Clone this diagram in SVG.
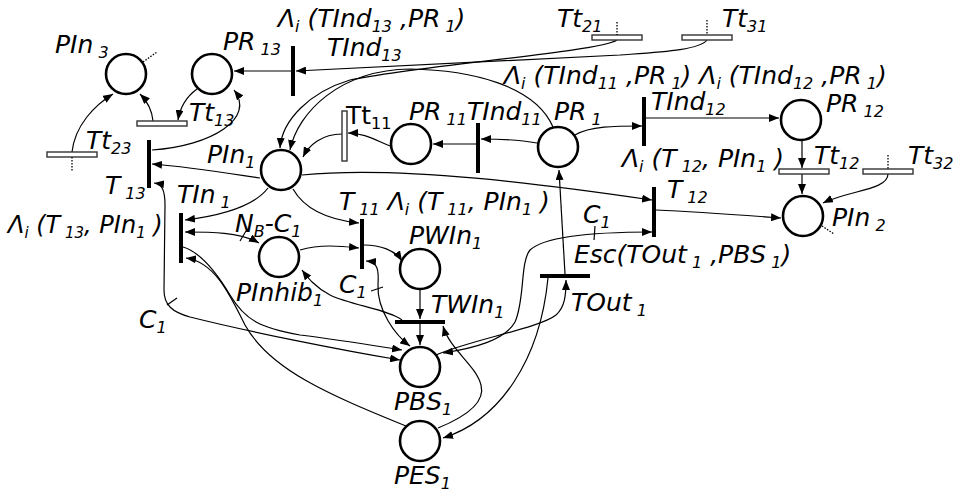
<svg xmlns="http://www.w3.org/2000/svg" width="953" height="495" viewBox="0 0 953 495">
  <defs>
    <style>
      .pl { fill: #fff; stroke: #000; stroke-width: 2.6; }
      .tr { fill: #000; }
      .tt { fill: #fff; stroke: #333; stroke-width: 1.4; }
      .dot { stroke: #000; stroke-width: 1.3; stroke-dasharray: 1.5 1.5; fill: none; }
      .arc { fill: none; stroke: #000; stroke-width: 1.2; marker-end: url(#ah); }
      .both { marker-start: url(#ah); }
      .tick { stroke: #000; stroke-width: 1.2; }
      text { font-family: "DejaVu Sans", "Liberation Sans", sans-serif; font-style: oblique; font-size: 25px; fill: #000; }
      .up { font-style: normal; }
      .s { font-size: 16px; }
      .sm { font-size: 24px; }
      .sm .s { font-size: 15px; }
    </style>
    <marker id="ah" viewBox="0 0 10 8" refX="10" refY="4" markerWidth="10" markerHeight="8" markerUnits="userSpaceOnUse" orient="auto-start-reverse">
      <path d="M0,0 L10,4 L0,8 z" fill="#000"/>
    </marker>
  </defs>
  <rect width="953" height="495" fill="#fff"/>

  <!-- arcs -->
  <g id="connectors">
    <path class="arc" d="M291,71 L234,71"/>
    <path class="arc" d="M707,40 C 700,50 660,52 620,55 L 296,71"/>
    <path class="arc" d="M617,40 C 600,52 420,65 350,80 C 310,92 282,120 280,148"/>
    <path class="arc" d="M553,127 C 535,85 470,70 410,69 C 340,70 298,112 290,150"/>
    <path class="arc" d="M342,134 C 322,134 309,145 303,157"/>
    <path class="arc" d="M390,146 C 375,140 364,133 348,133"/>
    <path class="arc" d="M476,144 L433,144"/>
    <path class="arc" d="M537,143 C 520,140 500,139 481,139"/>
    <path class="arc" d="M575,135 C 590,126 615,126 642,126"/>
    <path class="arc" d="M646,118 L779,118"/>
    <path class="arc" d="M802,141 L802,168"/>
    <path class="arc" d="M802,174 L802,194"/>
    <path class="arc" d="M888,174 C 888,190 850,190 823,203"/>
    <path class="arc" d="M302,175 C 400,165 550,185 652,200"/>
    <path class="arc" d="M656,210 C 700,212 740,215 781,218"/>
    <path class="arc" d="M260,178 C 220,172 190,167 152,164"/>
    <path class="arc" d="M152,150 C 212,146 256,118 234,90"/>
    <path class="arc" d="M197,89 C 186,97 180,108 178,120"/>
    <path class="arc" d="M153,121 C 152,110 147,101 140,94"/>
    <path class="arc" d="M72,152 C 75,125 95,105 113,94"/>
    <path class="arc both" d="M154,183 C 162,184 165,190 165,205 L 164,290 C 164,305 172,312 190,317 C 250,332 340,350 400,360"/>
    <path class="arc" d="M268,188 C 255,205 225,215 185,220"/>
    <path class="arc both" d="M185,232 C 210,232 240,232 259,243"/>
    <path class="arc" d="M183,247 C 200,252 215,270 230,295 C 245,320 260,328 300,335 C 340,340 370,345 402,350"/>
    <path class="arc" d="M406,426 C 330,395 270,370 245,325 C 230,295 215,262 186,258"/>
    <path class="arc" d="M293,189 C 305,210 330,220 359,223"/>
    <path class="arc" d="M300,250 C 320,244 340,246 359,248"/>
    <path class="arc" d="M364,245 C 380,245 395,250 402,261"/>
    <path class="arc both" d="M366,261 C 378,262 379,270 378,285 C 377,310 395,335 410,346"/>
    <path class="arc" d="M420,290 L420,319"/>
    <path class="arc" d="M420,324 L420,345"/>
    <path class="arc" d="M402,320 C 390,310 350,305 330,295 C 315,287 308,278 302,270"/>
    <path class="arc" d="M438,428 C 470,415 485,400 481,385 C 476,365 450,350 443,326"/>
    <path class="arc" d="M436,355 C 470,340 540,328 556,315 C 565,307 566,295 566,280"/>
    <path class="arc" d="M565,274 L559,170"/>
    <path class="arc" d="M548,278 C 540,360 500,420 443,438"/>
    <path class="arc both" d="M652,232 C 600,232 545,236 530,250 C 520,262 525,300 515,322 C 505,340 475,348 443,353"/>
    <!-- weight ticks -->
    <line class="tick" x1="240" y1="241" x2="246" y2="231"/>
    <line class="tick" x1="167" y1="305" x2="177" y2="298"/>
    <line class="tick" x1="371" y1="291" x2="383" y2="287"/>
    <line class="tick" x1="595" y1="226" x2="594" y2="240"/>
  </g>

  <!-- places -->
  <g id="PIn3">
    <circle class="pl" cx="126" cy="74" r="20"/>
    <line class="dot" x1="143" y1="62" x2="157" y2="52"/>
    <text x="55" y="53">PIn<tspan class="s" dy="5"> 3</tspan></text>
  </g>
  <g id="PR13">
    <circle class="pl" cx="212" cy="74" r="20"/>
    <text x="223" y="50">PR<tspan class="s" dy="5"> 13</tspan></text>
  </g>
  <g id="PIn1">
    <circle class="pl" cx="281" cy="170" r="20"/>
    <text x="207" y="163">PIn<tspan class="s" dy="5">1</tspan></text>
  </g>
  <g id="PR11">
    <circle class="pl" cx="411" cy="144" r="20"/>
    <text x="409" y="120">PR<tspan class="s" dy="5"> 11</tspan></text>
  </g>
  <g id="PR1">
    <circle class="pl" cx="558" cy="147" r="20"/>
    <text x="554" y="120">PR<tspan class="s" dy="5"> 1</tspan></text>
  </g>
  <g id="PR12">
    <circle class="pl" cx="801" cy="120" r="20"/>
    <text x="826" y="112">PR<tspan class="s" dy="5"> 12</tspan></text>
  </g>
  <g id="PIn2">
    <circle class="pl" cx="803" cy="216" r="20"/>
    <line class="dot" x1="822" y1="226" x2="834" y2="234"/>
    <text x="832" y="226">PIn<tspan class="s" dy="5"> 2</tspan></text>
  </g>
  <g id="PInhib1">
    <circle class="pl" cx="279" cy="257" r="20"/>
    <text x="236" y="301">PInhib<tspan class="s" dy="5">1</tspan></text>
  </g>
  <g id="PWIn1">
    <circle class="pl" cx="420" cy="269" r="20"/>
    <text x="409" y="244">PWIn<tspan class="s" dy="5">1</tspan></text>
  </g>
  <g id="PBS1">
    <circle class="pl" cx="420" cy="367" r="20"/>
    <text x="394" y="410">PBS<tspan class="s" dy="5">1</tspan></text>
  </g>
  <g id="PES1">
    <circle class="pl" cx="420" cy="441" r="20"/>
    <text x="394" y="484">PES<tspan class="s" dy="5">1</tspan></text>
  </g>

  <!-- immediate transitions -->
  <g id="TInd13">
    <rect class="tr" x="291" y="46" width="4" height="50"/>
    <text x="278" y="27">Λ<tspan class="s" dy="5">i</tspan><tspan dy="-5"> (TInd</tspan><tspan class="s" dy="5">13</tspan><tspan dy="-5"> ,PR</tspan><tspan class="s" dy="5"> 1</tspan><tspan dy="-5">)</tspan></text>
    <text x="327" y="56">TInd<tspan class="s" dy="5">13</tspan></text>
  </g>
  <g id="T13">
    <rect class="tr" x="147" y="140" width="4" height="48"/>
    <text x="105" y="194">T<tspan class="s" dy="5"> 13</tspan></text>
    <text class="sm" x="8" y="233">Λ<tspan class="s" dy="5">i</tspan><tspan dy="-5"> (T</tspan><tspan class="s" dy="5"> 13</tspan><tspan dy="-5">, PIn</tspan><tspan class="s" dy="5">1</tspan><tspan dy="-5"> )</tspan></text>
  </g>
  <g id="TIn1">
    <rect class="tr" x="179" y="213" width="4" height="50"/>
    <text x="177" y="203">TIn<tspan class="s" dy="5"> 1</tspan></text>
    <text x="235" y="232">N<tspan class="s" dy="5">B</tspan><tspan dy="-5">-C</tspan><tspan class="s" dy="5">1</tspan></text>
  </g>
  <g id="T11">
    <rect class="tr" x="360" y="219" width="4" height="50"/>
    <text x="339" y="210">T<tspan class="s" dy="5"> 11</tspan><tspan dy="-5"> Λ</tspan><tspan class="s" dy="5">i</tspan><tspan dy="-5"> (T</tspan><tspan class="s" dy="5"> 11</tspan><tspan dy="-5">, PIn</tspan><tspan class="s" dy="5">1</tspan><tspan dy="-5"> )</tspan></text>
    <text x="339" y="293">C<tspan class="s" dy="5">1</tspan></text>
  </g>
  <g id="TInd11">
    <rect class="tr" x="476" y="123" width="4" height="50"/>
    <text x="467" y="120">TInd<tspan class="s" dy="5">11</tspan></text>
  </g>
  <g id="TInd12">
    <rect class="tr" x="642" y="97" width="4" height="49"/>
    <text x="504" y="84">Λ<tspan class="s" dy="5">i</tspan><tspan dy="-5"> (TInd</tspan><tspan class="s" dy="5">11</tspan><tspan dy="-5"> ,PR</tspan><tspan class="s" dy="5"> 1</tspan><tspan dy="-5">) Λ</tspan><tspan class="s" dy="5">i</tspan><tspan dy="-5"> (TInd</tspan><tspan class="s" dy="5">12</tspan><tspan dy="-5"> ,PR</tspan><tspan class="s" dy="5"> 1</tspan><tspan dy="-5">)</tspan></text>
    <text x="651" y="110">TInd<tspan class="s" dy="5">12</tspan></text>
  </g>
  <g id="T12">
    <rect class="tr" x="652" y="187" width="4" height="50"/>
    <text x="667" y="198">T<tspan class="s" dy="5"> 12</tspan></text>
    <text x="622" y="167">Λ<tspan class="s" dy="5">i</tspan><tspan dy="-5"> (T</tspan><tspan class="s" dy="5"> 12</tspan><tspan dy="-5">, PIn</tspan><tspan class="s" dy="5">1</tspan><tspan dy="-5"> )</tspan></text>
    <text x="583" y="223">C<tspan class="s" dy="5">1</tspan></text>
    <text x="574" y="263">Esc(TOut<tspan class="s" dy="5"> 1</tspan><tspan dy="-5"> ,PBS</tspan><tspan class="s" dy="5"> 1</tspan><tspan dy="-5">)</tspan></text>
  </g>
  <g id="TWIn1">
    <rect class="tr" x="395" y="320" width="50" height="4"/>
    <text x="431" y="313">TWIn<tspan class="s" dy="5">1</tspan></text>
  </g>
  <g id="TOut1">
    <rect class="tr" x="540" y="274" width="50" height="4"/>
    <text x="571" y="311">TOut<tspan class="s" dy="5"> 1</tspan></text>
  </g>
  <g id="C1-T13">
    <text x="139" y="328">C<tspan class="s" dy="5">1</tspan></text>
  </g>

  <!-- timed transitions -->
  <g id="Tt13">
    <rect class="tt" x="137" y="121" width="50" height="5"/>
    <text x="189" y="121">Tt<tspan class="s" dy="5">13</tspan></text>
  </g>
  <g id="Tt23">
    <rect class="tt" x="47" y="152" width="50" height="5"/>
    <line class="dot" x1="72" y1="157" x2="72" y2="171"/>
    <text x="86" y="149">Tt<tspan class="s" dy="5">23</tspan></text>
  </g>
  <g id="Tt21">
    <rect class="tt" x="592" y="35" width="50" height="5"/>
    <line class="dot" x1="617" y1="22" x2="617" y2="35"/>
    <text x="557" y="27">Tt<tspan class="s" dy="5">21</tspan></text>
  </g>
  <g id="Tt31">
    <rect class="tt" x="682" y="35" width="50" height="5"/>
    <line class="dot" x1="707" y1="20" x2="707" y2="35"/>
    <text x="722" y="27">Tt<tspan class="s" dy="5">31</tspan></text>
  </g>
  <g id="Tt11">
    <rect class="tt" x="342" y="111" width="5" height="50"/>
    <text class="up" x="346" y="124">Tt<tspan class="s" dy="5">11</tspan></text>
  </g>
  <g id="Tt12">
    <rect class="tt" x="779" y="169" width="50" height="5"/>
    <text x="814" y="164">Tt<tspan class="s" dy="5">12</tspan></text>
  </g>
  <g id="Tt32">
    <rect class="tt" x="863" y="169" width="50" height="5"/>
    <line class="dot" x1="888" y1="155" x2="888" y2="169"/>
    <text x="908" y="164">Tt<tspan class="s" dy="5">32</tspan></text>
  </g>
</svg>
